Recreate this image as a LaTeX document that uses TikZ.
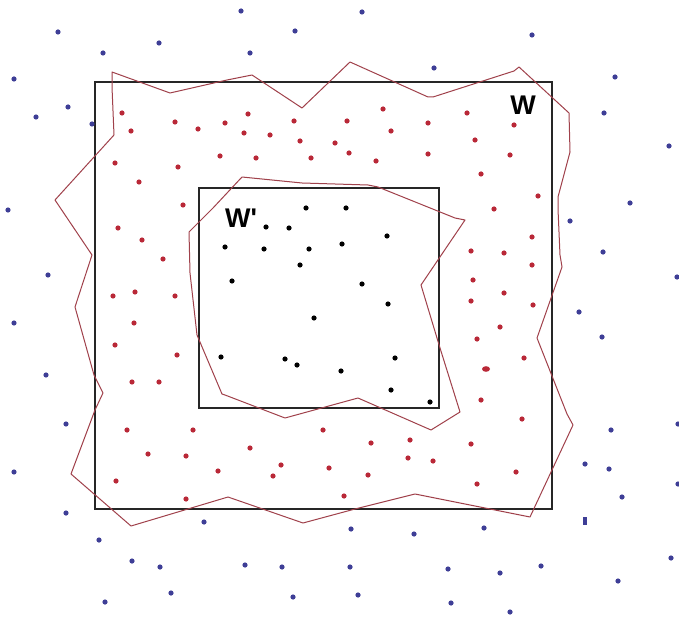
\documentclass[tikz,border=0pt]{standalone}
\usepackage{fontspec}
\setmainfont{Liberation Sans}
\definecolor{bluedot}{RGB}{62,62,150}
\definecolor{reddot}{RGB}{185,40,55}
\definecolor{redline}{RGB}{160,65,75}
\tikzset{
  box/.style={draw=black!85, line width=1.2pt},
  zone/.style={draw=redline, line width=1pt, line join=round},
  lbl/.style={font=\bfseries\fontsize{27}{27}\selectfont, inner sep=0pt},
}
\begin{document}
\begin{tikzpicture}[x=1pt,y=-1pt]
\useasboundingbox (0,0) rectangle (679,617);
\fill[white] (0,0) rectangle (679,617);
% squares
\draw[box] (95,82) rectangle (552,509);
\draw[box] (199,188) rectangle (439,408);
% outer zone
\draw[zone] (112,72) -- (170,93) -- (227,80) -- (252,75) -- (302,108) -- (350,62) -- (428,97) -- (433,97) -- (514,71)
  -- (519,67) -- (569,113) -- (570,152) -- (558,197) -- (558,209) -- (560,255) -- (562,267) -- (537,338)
  -- (567,414) -- (573,425) -- (530,517) -- (415,494) -- (355,509) -- (303,523) -- (228,497) -- (131,526)
  -- (71,474) -- (95,410) -- (103,393) -- (94,375) -- (75,307) -- (92,255) -- (55,200) -- (114,135) -- (112,87) -- cycle;
% inner zone
\draw[zone] (242,177) -- (302,183) -- (368,185) -- (378,187) -- (455,218) -- (465,220) -- (421,285) -- (440,348)
  -- (460,412) -- (431,430) -- (358,398) -- (285,418) -- (225,395) -- (222,394) -- (197,335) -- (190,273)
  -- (189,232) -- (213,208) -- cycle;
% blue dots
\foreach \p in {(58,32),(159,43),(103,53),(14,79),(68,107),(36,117),(92,124),(8,210),
  (241,11),(362,12),(295,31),(250,53),(434,68),(532,35),(615,77),(604,113),(669,146),(630,203),
  (48,275),(14,323),(46,375),(570,221),(603,252),(677,277),(579,312),(602,337),
  (66,424),(14,472),(66,513),(204,522),(99,540),(132,561),(160,567),(171,593),(105,602),
  (351,529),(414,534),(245,565),(282,567),(350,567),(448,569),(293,597),(358,595),(451,603),
  (611,430),(678,424),(585,464),(609,469),(678,484),(622,497),(484,528),(671,558),(500,573),
  (541,566),(618,581),(510,612)}
  \fill[bluedot] \p circle (2.6);
\fill[bluedot] (583.3,516.5) rectangle (586.7,524.5);
% red dots
\foreach \p in {(122,113),(175,122),(198,129),(225,123),(131,131),(220,156),(115,163),(178,167),(139,182),(183,205),
  (248,114),(294,121),(347,121),(383,109),(428,123),(244,133),(270,135),(300,141),(335,143),(391,131),
  (256,158),(311,158),(349,153),(376,161),(428,154),
  (467,113),(514,125),(475,140),(510,155),(481,174),(538,196),(494,209),
  (118,228),(142,240),(163,259),(113,296),(135,292),(175,296),(134,323),(115,345),(177,355),(132,382),(159,382),
  (532,237),(471,251),(504,253),(532,265),(473,280),(504,293),(471,301),(533,305),(500,327),(477,339),
  (524,358),(481,400),
  (127,430),(193,430),(148,454),(186,456),(218,471),(116,481),(186,499),
  (323,430),(250,448),(371,443),(410,440),(281,465),(408,458),(433,461),(273,476),(329,468),(368,475),(344,496),
  (522,419),(471,444),(516,472),(477,484)}
  \fill[reddot] \p circle (2.6);
\fill[reddot] (486,369) ellipse (4 and 2.8);
% black dots
\foreach \p in {(306,208),(346,208),(266,227),(289,228),(387,236),(225,247),(264,249),(309,249),(342,244),
  (300,265),(232,281),(362,284),(388,304),(314,318),(285,359),(297,365),(395,358),(341,371),(391,390),
  (430,402),(221,357)}
  \fill[black] \p circle (2.6);
% labels
\node[lbl] (w) at (523,105) {W};
\node[lbl] (wp) at (241,218) {W\textquotesingle};
\end{tikzpicture}
\end{document}
